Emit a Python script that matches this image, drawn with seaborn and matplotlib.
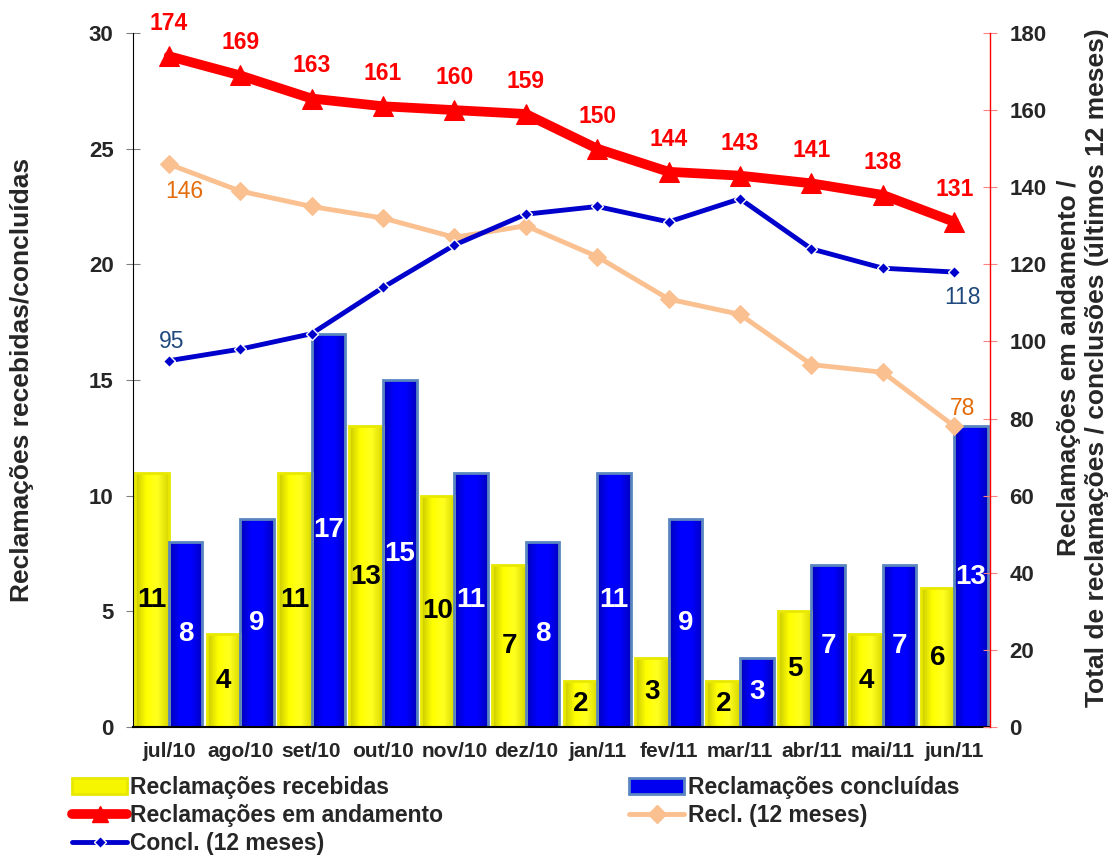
import numpy as np
import pandas as pd
import matplotlib
matplotlib.use("Agg")
import matplotlib.pyplot as plt
from matplotlib.lines import Line2D
from matplotlib.patches import Patch
from matplotlib.colors import LinearSegmentedColormap
import seaborn as sns

# =====================
# dados
# =====================
meses = ["jul/10", "ago/10", "set/10", "out/10", "nov/10", "dez/10",
         "jan/11", "fev/11", "mar/11", "abr/11", "mai/11", "jun/11"]
recebidas = [11, 4, 11, 13, 10, 7, 2, 3, 2, 5, 4, 6]
concluidas = [8, 9, 17, 15, 11, 8, 11, 9, 3, 7, 7, 13]
andamento = [174, 169, 163, 161, 160, 159, 150, 144, 143, 141, 138, 131]
recl_12m = [146, 139, 135, 132, 127, 130, 122, 111, 107, 94, 92, 78]
concl_12m = [95, 98, 102, 114, 125, 133, 135, 131, 137, 124, 119, 118]

SERIES_BAR = ["Reclamações recebidas", "Reclamações concluídas"]

# =====================
# estilo
# =====================
sns.set_style("white")
plt.rcParams["font.family"] = ["Liberation Sans", "DejaVu Sans"]
plt.rcParams["font.weight"] = "bold"

YELLOW = "#F6F600"
YELLOW_EDGE = "#E8E800"
BLUE = "#0000F0"
BLUE_EDGE = "#5A86BF"
RED = "#FF0000"
PEACH = "#FAC090"
ORANGE_TXT = "#E46C0A"
BLUE_LINE = "#0000CC"
BLUE_TXT = "#1F497D"

df = pd.DataFrame({
    "mes": meses * 2,
    "valor": recebidas + concluidas,
    "serie": [SERIES_BAR[0]] * 12 + [SERIES_BAR[1]] * 12,
})

fig = plt.figure(figsize=(11.13, 8.55), dpi=100)
ax = fig.add_axes([133 / 1113, 1 - 727 / 855, 857 / 1113, 694 / 855])

sns.barplot(data=df, x="mes", y="valor", hue="serie", order=meses,
            hue_order=SERIES_BAR, palette=[YELLOW, BLUE], width=0.94,
            saturation=1, legend=False, ax=ax)

ax.set_ylim(0, 30)
ax.set_xlim(-0.5, 11.5)

# gradiente horizontal dentro das barras
grads = [
    LinearSegmentedColormap.from_list("am", ["#C8C800", "#FFFF00", "#FFFF20", "#D8D800"]),
    LinearSegmentedColormap.from_list("az", ["#0000B8", "#0000FF", "#0000FF", "#0000C0"]),
]
edges = [YELLOW_EDGE, BLUE_EDGE]
grad = np.linspace(0, 1, 64).reshape(1, -1)
for cont, ec, cm in zip(ax.containers, edges, grads):
    for p in cont:
        p.set_edgecolor(ec)
        p.set_linewidth(2)
        x0, y0 = p.get_x(), p.get_y()
        im = ax.imshow(grad, cmap=cm, aspect="auto", interpolation="bicubic",
                       extent=(x0, x0 + p.get_width(), y0, y0 + p.get_height()),
                       zorder=p.get_zorder() + 0.1)
        im.set_clip_path(p)
        p.set_facecolor("none")
        p.set_zorder(p.get_zorder() + 0.2)

ax.set_ylim(0, 30)
ax.set_xlim(-0.5, 11.5)

ax.bar_label(ax.containers[0], label_type="center", fontsize=20,
             fontweight="bold", color="black", zorder=5)
ax.bar_label(ax.containers[1], label_type="center", fontsize=20,
             fontweight="bold", color="white", zorder=5)

ax.set_yticks(range(0, 31, 5))
ax.set_xlabel("")
ax.set_ylabel("")
ax.set_xticks(np.arange(-0.5, 12, 1), minor=True)
ax.tick_params(axis="x", which="major", length=0, labelsize=15, pad=11)
ax.tick_params(axis="x", which="minor", length=7, color="#808080", direction="out")
ax.tick_params(axis="y", length=10, color="#808080", direction="inout",
               labelsize=16, pad=9)
for lbl in ax.get_xticklabels() + ax.get_yticklabels():
    lbl.set_fontweight("bold")
for s in ["top", "right"]:
    ax.spines[s].set_visible(False)
ax.spines["left"].set_color("black")
ax.spines["bottom"].set_color("black")
ax.spines["bottom"].set_linewidth(1.5)

# =====================
# linhas (eixo direito)
# =====================
ax2 = ax.twinx()
x = np.arange(len(meses))
sns.lineplot(x=x, y=recl_12m, ax=ax2, color=PEACH, lw=3.5, marker="D",
             ms=9, mec=PEACH, sort=False)
sns.lineplot(x=x, y=concl_12m, ax=ax2, color=BLUE_LINE, lw=3.5, marker="D",
             ms=6, mec="white", mew=1, sort=False)
sns.lineplot(x=x, y=andamento, ax=ax2, color=RED, lw=7, marker="^",
             ms=14, mec=RED, sort=False)

ax2.set_ylim(0, 180)
ax2.set_yticks(range(0, 181, 20))
ax2.set_xlim(-0.5, 11.5)
ax2.tick_params(axis="y", length=10, color="#FF8080", direction="inout",
                labelsize=16, pad=9)
for lbl in ax2.get_yticklabels():
    lbl.set_fontweight("bold")
for s in ["top", "left", "bottom"]:
    ax2.spines[s].set_visible(False)
ax2.spines["right"].set_color(RED)
ax2.spines["right"].set_linewidth(1)

for xi, v in zip(x, andamento):
    ax2.annotate(str(v), (xi, v), xytext=(0, 23.5), textcoords="offset points",
                 ha="center", va="center", color=RED, fontsize=16.5,
                 fontweight="bold")

ax2.annotate(str(recl_12m[0]), (0, recl_12m[0]), xytext=(11, -20),
             textcoords="offset points", ha="center", va="center",
             color=ORANGE_TXT, fontsize=16.5, fontweight="normal")
ax2.annotate(str(recl_12m[-1]), (11, recl_12m[-1]), xytext=(6, 13),
             textcoords="offset points", ha="center", va="center",
             color=ORANGE_TXT, fontsize=16.5, fontweight="normal")
ax2.annotate(str(concl_12m[0]), (0, concl_12m[0]), xytext=(2, 14),
             textcoords="offset points", ha="center", va="center",
             color=BLUE_TXT, fontsize=16.5, fontweight="normal")
ax2.annotate(str(concl_12m[-1]), (11, concl_12m[-1]), xytext=(6, -18),
             textcoords="offset points", ha="center", va="center",
             color=BLUE_TXT, fontsize=16.5, fontweight="normal")

# =====================
# títulos dos eixos
# =====================
fig.text(22 / 1113, 1 - 380 / 855, "Reclamações recebidas/concluídas",
         rotation=90, ha="center", va="center", fontsize=19, fontweight="bold")
fig.text(1083 / 1113, 1 - 368 / 855,
         "Reclamações em andamento /\nTotal de reclamações / conclusões (últimos 12 meses)",
         rotation=90, ha="center", va="center", multialignment="center",
         fontsize=19, fontweight="bold", linespacing=1.25)

# =====================
# legenda
# =====================
handles = [
    Patch(facecolor=YELLOW, edgecolor=YELLOW_EDGE, lw=2),
    Line2D([], [], color=RED, lw=7, marker="^", ms=12),
    Line2D([], [], color=BLUE_LINE, lw=3.5, marker="D", ms=6, mec="white", mew=1),
    Patch(facecolor=BLUE, edgecolor=BLUE_EDGE, lw=2),
    Line2D([], [], color=PEACH, lw=3.5, marker="D", ms=9),
]
labels = ["Reclamações recebidas", "Reclamações em andamento",
          "Concl. (12 meses)", "Reclamações concluídas", "Recl. (12 meses)"]
fig.legend(handles, labels, loc="upper left", bbox_to_anchor=(72 / 1113, 1 - 776 / 855),
           ncol=2, frameon=False, handlelength=2.4,
           handletextpad=0.15, columnspacing=8.1, labelspacing=0.22,
           borderpad=0, borderaxespad=0,
           prop={"weight": "bold", "size": 16.5})

fig.savefig("out.png", dpi=100)
